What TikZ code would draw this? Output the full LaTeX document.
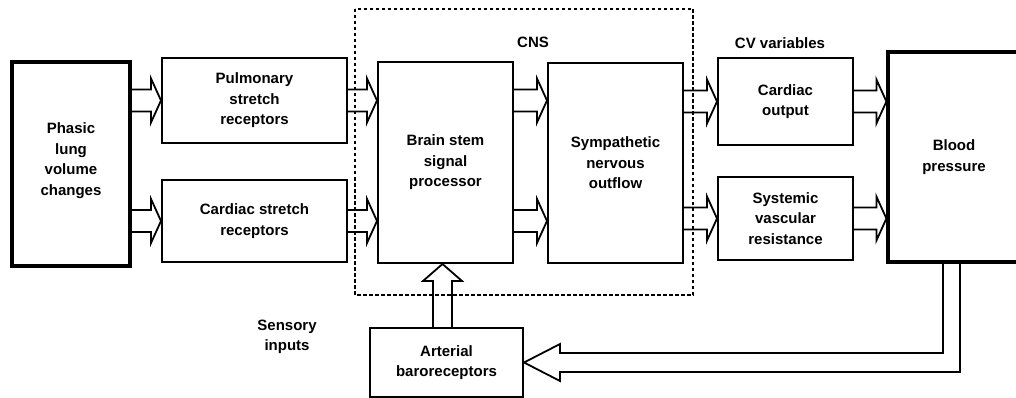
\documentclass[tikz,border=0pt]{standalone}
\usepackage{fontspec}
\setmainfont{Liberation Sans}
\usetikzlibrary{calc}
\newcommand\harr[2]{%
  \draw[hollow] ($(#1)+(0,-11)$) -- ($(#2)+(-10,-11)$) -- ($(#2)+(-10,-22)$) -- (#2)
    -- ($(#2)+(-10,22)$) -- ($(#2)+(-10,11)$) -- ($(#1)+(0,11)$);}
\begin{document}
\begin{tikzpicture}[x=1pt,y=-1pt,
  txt/.style={align=center, font=\bfseries\fontsize{15}{20.5}\selectfont},
  box/.style={txt, draw, line width=2pt, inner sep=0pt},
  thickbox/.style={box, line width=3.2pt},
  hollow/.style={line width=1.8pt, line join=miter},
  cnsline/.style={line width=2pt, dash pattern=on 3.5pt off 2.5pt}]
\useasboundingbox (0,0) rectangle (1016,398);
\clip (0,0) rectangle (1016,398);
% boxes
\node[thickbox, minimum width=118pt, minimum height=204pt, text depth=10pt] (phasic) at (71,164) {Phasic\\lung\\volume\\changes};
\node[box, minimum width=185pt, minimum height=85pt] (pul) at (254.5,100.5) {Pulmonary\\stretch\\receptors};
\node[box, minimum width=185pt, minimum height=82pt] (cst) at (254.5,221) {Cardiac stretch\\receptors};
\node[box, minimum width=135pt, minimum height=201pt] (brain) at (445.5,162.5) {Brain stem\\signal\\processor};
\node[box, minimum width=135pt, minimum height=200pt] (symp) at (615.5,163) {Sympathetic\\nervous\\outflow};
\node[box, minimum width=135pt, minimum height=87pt] (co) at (785.5,101.5) {Cardiac\\output};
\node[box, minimum width=135pt, minimum height=83pt] (svr) at (785.5,218.5) {Systemic\\vascular\\resistance};
\node[thickbox, minimum width=132pt, minimum height=210pt] (bp) at (954,157) {Blood\\pressure};
\node[box, minimum width=153pt, minimum height=69pt] (art) at (446.5,362.5) {Arterial\\baroreceptors};
% labels
\draw[cnsline] (355,9) rectangle (693,295);
\node[txt] (cnsl) at (533,42) {CNS};
\node[txt] (cvl) at (780,43) {CV variables};
\node[txt] (sens) at (287,337) {Sensory\\inputs};
% hollow arrows
\harr{phasic.east |- pul.west}{pul.west}
\harr{phasic.east |- cst.west}{cst.west}
\harr{pul.east}{brain.west |- pul.east}
\harr{cst.east}{brain.west |- cst.east}
\harr{brain.east |- pul.east}{symp.west |- pul.east}
\harr{brain.east |- cst.east}{symp.west |- cst.east}
\harr{symp.east |- co.west}{co.west}
\harr{symp.east |- svr.west}{svr.west}
\harr{co.east}{bp.west |- co.east}
\harr{svr.east}{bp.west |- svr.east}
% up arrow from baroreceptors
\coordinate (ua) at ($(art.north)+(-4,0)$);
\coordinate (ut) at (brain.south -| ua);
\draw[hollow] ($(ua)+(-9.5,0)$) -- ($(ut)+(-9.5,17)$) -- ($(ut)+(-19.5,17)$) -- (ut)
  -- ($(ut)+(19.5,17)$) -- ($(ut)+(9.5,17)$) -- ($(ua)+(9.5,0)$);
% feedback arrow
\coordinate (fb) at ($(bp.south)+(-2.5,0)$);
\draw[hollow] ($(fb)+(-8.5,0)$) -- ($(fb |- art.east)+(-8.5,-9.5)$) -- ($(art.east)+(36,-9.5)$)
  -- ($(art.east)+(36,-18.5)$) -- (art.east) -- ($(art.east)+(36,18.5)$)
  -- ($(art.east)+(36,9.5)$) -- ($(fb |- art.east)+(8.5,9.5)$) -- ($(fb)+(8.5,0)$);
\end{tikzpicture}
\end{document}
